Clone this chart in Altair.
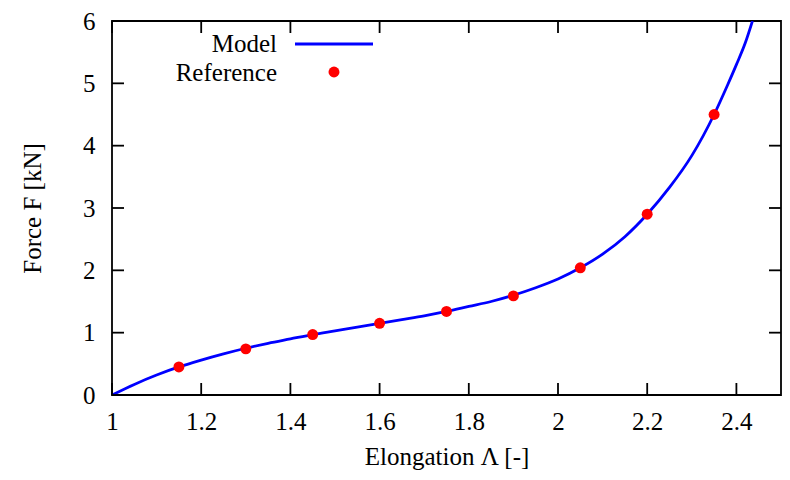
import altair as alt
import pandas as pd

# Model curve
model_x = [1.0, 1.05, 1.1, 1.15, 1.2, 1.25, 1.3, 1.35, 1.4, 1.45, 1.5, 1.55, 1.6, 1.65,
           1.7, 1.75, 1.8, 1.85, 1.9, 1.95, 2.0, 2.05, 2.1, 2.15, 2.2, 2.25, 2.3, 2.35,
           2.38, 2.4, 2.42, 2.436]
model_y = [0.0, 0.17, 0.32, 0.45, 0.56, 0.66, 0.75, 0.83, 0.90, 0.97, 1.03, 1.09, 1.15, 1.21,
           1.27, 1.34, 1.42, 1.50, 1.60, 1.72, 1.86, 2.04, 2.26, 2.54, 2.90, 3.33, 3.84, 4.50,
           4.97, 5.30, 5.65, 6.0]

# Reference points
ref_x = [1.15, 1.3, 1.45, 1.6, 1.75, 1.9, 2.05, 2.2, 2.35]
ref_y = [0.45, 0.74, 0.97, 1.15, 1.34, 1.59, 2.04, 2.90, 4.50]

x_ticks = [1, 1.2, 1.4, 1.6, 1.8, 2, 2.2, 2.4]
y_ticks = [0, 1, 2, 3, 4, 5, 6]

W, H = 669, 374
TICK = 12
FONT = "Liberation Serif, Times New Roman, Times, serif"
FS = 25

xs = alt.Scale(domain=[1, 2.5], nice=False, zero=False)
ys = alt.Scale(domain=[0, 6], nice=False, zero=False)

x_axis = alt.Axis(
    values=x_ticks, title="Elongation Λ [-]", grid=False, domain=False, ticks=False,
    format="~g",
    labelFont=FONT, labelFontSize=FS, labelColor="black", labelPadding=14,
    titleFont=FONT, titleFontSize=FS, titleFontWeight="normal", titleColor="black",
    titlePadding=10, labelFlush=False)
y_axis = alt.Axis(
    values=y_ticks, title="Force F [kN]", grid=False, domain=False, ticks=False,
    format="~g",
    labelFont=FONT, labelFontSize=FS, labelColor="black", labelPadding=17,
    titleFont=FONT, titleFontSize=FS, titleFontWeight="normal", titleColor="black",
    titlePadding=37, labelFlush=False)

df_model = pd.DataFrame({"x": model_x, "y": model_y})
df_ref = pd.DataFrame({"x": ref_x, "y": ref_y})
df_xt = pd.DataFrame({"x": x_ticks})
df_yt = pd.DataFrame({"y": y_ticks})
one = pd.DataFrame({"a": [0]})

X = alt.X("x:Q", scale=xs, axis=x_axis)
Y = alt.Y("y:Q", scale=ys, axis=y_axis)

line = alt.Chart(df_model).mark_line(
    color="#0000ff", strokeWidth=2.8, clip=True, interpolate="monotone"
).encode(x=X, y=Y)

pts = alt.Chart(df_ref).mark_circle(color="#ff0000", size=120, opacity=1).encode(x=X, y=Y)

tick_style = dict(color="black", strokeWidth=1.8)
xt_bottom = alt.Chart(df_xt).mark_rule(**tick_style).encode(
    x=X, y=alt.value(H), y2=alt.value(H - TICK))
xt_top = alt.Chart(df_xt).mark_rule(**tick_style).encode(
    x=X, y=alt.value(0), y2=alt.value(TICK))
yt_left = alt.Chart(df_yt).mark_rule(**tick_style).encode(
    y=Y, x=alt.value(0), x2=alt.value(TICK))
yt_right = alt.Chart(df_yt).mark_rule(**tick_style).encode(
    y=Y, x=alt.value(W), x2=alt.value(W - TICK))

leg_text1 = alt.Chart(one).mark_text(text="Model", align="right", baseline="middle",
                                     font=FONT, fontSize=FS, color="black").encode(
    x=alt.value(165), y=alt.value(23))
leg_text2 = alt.Chart(one).mark_text(text="Reference", align="right", baseline="middle",
                                     font=FONT, fontSize=FS, color="black").encode(
    x=alt.value(165), y=alt.value(52))
leg_line = alt.Chart(one).mark_rule(color="#0000ff", strokeWidth=2.8).encode(
    x=alt.value(183), x2=alt.value(261), y=alt.value(23))
leg_pt = alt.Chart(one).mark_circle(color="#ff0000", size=120, opacity=1).encode(
    x=alt.value(222), y=alt.value(51))

chart = alt.layer(
    line, pts, xt_bottom, xt_top, yt_left, yt_right,
    leg_text1, leg_text2, leg_line, leg_pt
).properties(
    width=W, height=H,
    autosize=alt.AutoSizeParams(type="none"),
    padding={"left": 104, "top": 13, "right": 1, "bottom": 77},
).configure_view(
    stroke="black", strokeWidth=1.8
)

chart.save("out.html", embed_options={"renderer": "svg", "actions": False})
